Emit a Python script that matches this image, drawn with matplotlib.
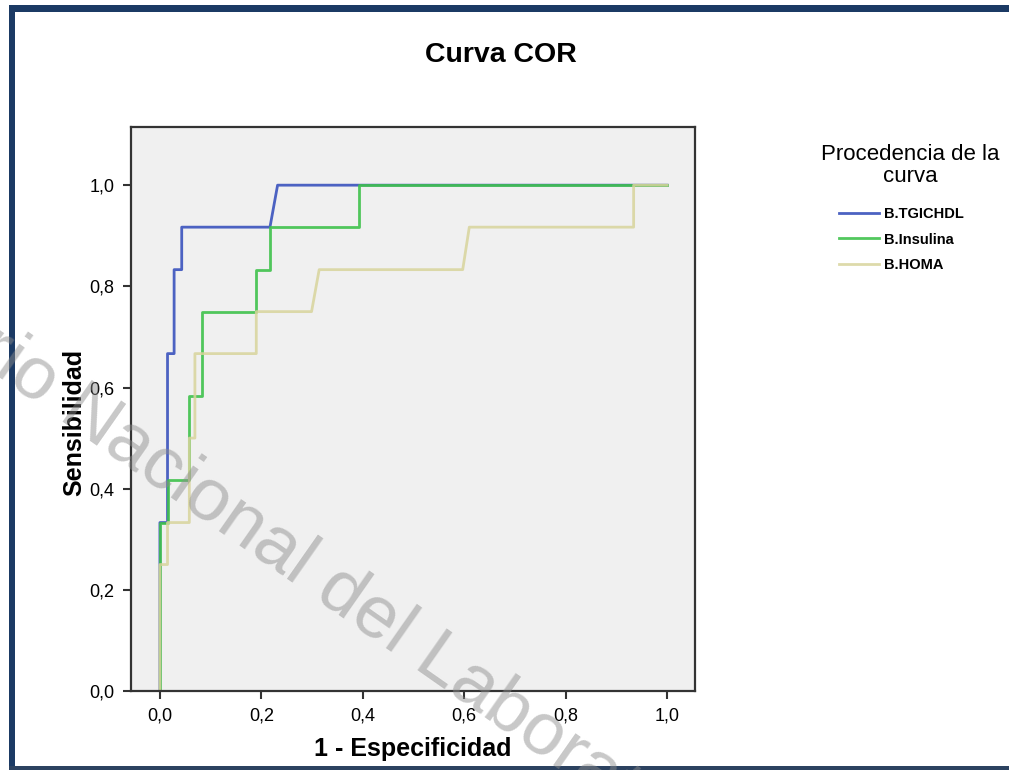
import matplotlib
matplotlib.use("Agg")
import matplotlib.pyplot as plt
from matplotlib.patches import Rectangle

plt.rcParams['font.family'] = ['Liberation Sans', 'DejaVu Sans']

fpr_tgichdl = [0.0, 0.0, 0.015, 0.015, 0.028, 0.028, 0.043, 0.043, 0.217, 0.232, 1.0]
tpr_tgichdl = [0.0, 0.333, 0.333, 0.667, 0.667, 0.833, 0.833, 0.917, 0.917, 1.0, 1.0]

fpr_insulina = [0.0, 0.0, 0.015, 0.015, 0.058, 0.058, 0.082, 0.082, 0.19, 0.19, 0.217, 0.217, 0.393, 0.393, 1.0]
tpr_insulina = [0.0, 0.333, 0.333, 0.417, 0.417, 0.583, 0.583, 0.75, 0.75, 0.833, 0.833, 0.917, 0.917, 1.0, 1.0]

fpr_homa = [0.0, 0.0, 0.015, 0.015, 0.058, 0.058, 0.069, 0.069, 0.19, 0.19, 0.299, 0.314, 0.597, 0.61, 0.934, 0.934, 1.0]
tpr_homa = [0.0, 0.25, 0.25, 0.333, 0.333, 0.5, 0.5, 0.667, 0.667, 0.75, 0.75, 0.833, 0.833, 0.917, 0.917, 1.0, 1.0]

nombres = ["B.TGICHDL", "B.Insulina", "B.HOMA"]
colores = ["#4c62c2", "#3fc24c", "#d8d49c"]

ticks = [0.0, 0.2, 0.4, 0.6, 0.8, 1.0]
etiquetas = ["0,0", "0,2", "0,4", "0,6", "0,8", "1,0"]

fig = plt.figure(figsize=(10.09, 7.70), dpi=100)
W, H = 1009.0, 770.0
ax = fig.add_axes([131 / W, 1 - 691 / H, (695 - 131) / W, (691 - 127) / H])
ax.set_facecolor("#f0f0f0")

ax.plot(fpr_tgichdl, tpr_tgichdl, color=colores[0], lw=2, label=nombres[0])
ax.plot(fpr_insulina, tpr_insulina, color=colores[1], lw=2, alpha=0.9, label=nombres[1])
ax.plot(fpr_homa, tpr_homa, color=colores[2], lw=2, alpha=0.85, label=nombres[2])

ax.set_xlim(-0.057, 1.055)
ax.set_ylim(0.0, 1.115)
ax.set_xticks(ticks)
ax.set_xticklabels(etiquetas)
ax.set_yticks(ticks)
ax.set_yticklabels(etiquetas)
ax.tick_params(direction="out", length=6, width=1.5, color="#333333", labelsize=13, pad=6)
for s in ax.spines.values():
    s.set_linewidth(1.6)
    s.set_color("#333333")

ax.set_xlabel("1 - Especificidad", fontsize=18, fontweight="bold")
ax.xaxis.set_label_coords(0.5, (691 - 737) / 564.0)
ax.set_ylabel("Sensibilidad", fontsize=18, fontweight="bold")
ax.yaxis.set_label_coords((86 - 131) / 564.0, (691 - 422) / 564.0)

fig.text(501 / W, 1 - 55 / H, "Curva COR", ha="center", va="center", fontsize=20.5, fontweight="bold")

# leyenda
fig.text(910 / W, 1 - 154 / H, "Procedencia de la", ha="center", va="center", fontsize=16)
fig.text(910 / W, 1 - 177 / H, "curva", ha="center", va="center", fontsize=16)
leg = fig.legend(loc="upper left", bbox_to_anchor=(826 / W, 1 - 194 / H), frameon=False,
                 prop={"size": 10.5, "weight": "bold"}, handlelength=2.7, handletextpad=0.35,
                 labelspacing=0.78)

# marco azul
navy = "#1b3a64"
fig.add_artist(Rectangle((9 / W, 1 - 12 / H), 1, 7 / H, transform=fig.transFigure, color=navy, lw=0))
fig.add_artist(Rectangle((9 / W, 0), 6 / W, 1 - 5 / H, transform=fig.transFigure, color=navy, lw=0))
fig.add_artist(Rectangle((9 / W, 0), 1, 4 / H, transform=fig.transFigure, color="#2c4260", lw=0))

# marca de agua
ang = -35
fig.text(57 / W, 1 - 418 / H, "Repositorio ", ha="right", va="baseline", rotation=ang,
         rotation_mode="anchor", fontsize=54, color="#8c8c8c", alpha=0.48)
fig.text(57 / W, 1 - 418 / H, "Nacional del Laboratorio", ha="left", va="baseline", rotation=ang,
         rotation_mode="anchor", fontsize=54, color="#8c8c8c", alpha=0.48)

fig.savefig("out.png", dpi=100)
